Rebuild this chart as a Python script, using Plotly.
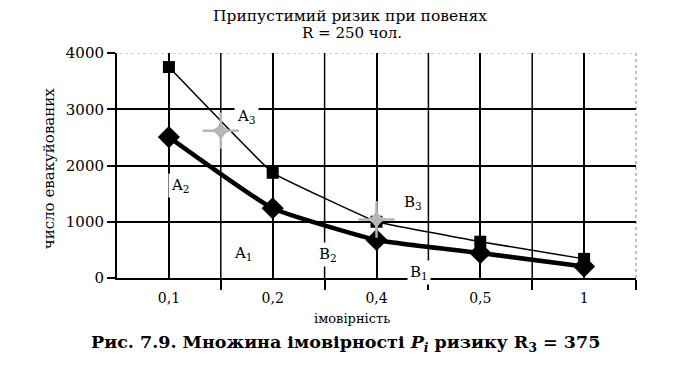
import plotly.graph_objects as go

# ---- data ----
categories = ["0,1", "0,2", "0,4", "0,5", "1"]
upper_vals = [3750, 1870, 1000, 645, 340]     # squares (A3-B3)
lower_vals = [2505, 1240, 675, 444, 205]      # diamonds (A1-B1)
star_pos = [0.5, 2.0]                          # between 0,1-0,2 and at 0,4
star_vals = [2620, 1040]
y_ticks = [0, 1000, 2000, 3000, 4000]

positions = list(range(len(categories)))
boundaries = [p + 0.5 for p in positions[:-1]]

SERIF = "DejaVu Serif"

fig = go.Figure()
fig.add_trace(go.Scatter(
    x=positions, y=upper_vals, mode="lines+markers",
    line=dict(color="black", width=1.5, shape="spline", smoothing=0.2),
    marker=dict(symbol="square", size=12, color="black"),
    showlegend=False))
fig.add_trace(go.Scatter(
    x=positions, y=lower_vals, mode="lines+markers",
    line=dict(color="black", width=4.5, shape="spline", smoothing=0.4),
    marker=dict(symbol="diamond", size=17, color="black"),
    showlegend=False))
# grey sparkle stars: thin cross + small 4-point star
fig.add_trace(go.Scatter(
    x=star_pos, y=star_vals, mode="markers",
    marker=dict(symbol="cross-thin", size=26, color="#b5b5b5",
                line=dict(color="#b5b5b5", width=2.5)),
    showlegend=False))
fig.add_trace(go.Scatter(
    x=star_pos, y=star_vals, mode="markers",
    marker=dict(symbol="star-diamond", size=15, color="#b5b5b5"),
    showlegend=False))

fig.update_xaxes(
    range=[-0.5, len(categories) - 0.5],
    tickmode="array", tickvals=positions, ticktext=categories,
    ticks="", ticklabelstandoff=6,
    showgrid=True, gridcolor="black", gridwidth=1.5,
    showline=True, linecolor="black", linewidth=2,
    zeroline=False,
    tickfont=dict(family=SERIF, size=14, color="black"),
    minor=dict(tickmode="array", tickvals=boundaries + [len(categories) - 0.5],
               ticks="outside", ticklen=10, tickwidth=1.5, tickcolor="black",
               showgrid=False),
)
fig.update_yaxes(
    range=[0, 4000],
    tickmode="array", tickvals=y_ticks,
    ticks="outside", ticklen=8, tickwidth=1.5, tickcolor="black",
    showgrid=True, gridcolor="black", gridwidth=1.5,
    showline=True, linecolor="black", linewidth=2,
    zeroline=False,
    tickfont=dict(family=SERIF, size=15, color="black"),
)

shapes = []
# boundary vertical grid lines
for b in boundaries:
    shapes.append(dict(type="line", xref="x", yref="y", x0=b, x1=b, y0=0, y1=4000,
                       line=dict(color="black", width=1.5), layer="between"))
# grey dotted top and right border (hide black top gridline first)
shapes.append(dict(type="line", xref="paper", yref="y", x0=0.004, x1=1, y0=4000, y1=4000,
                   line=dict(color="white", width=3), layer="between"))
shapes.append(dict(type="line", xref="paper", yref="y", x0=0.004, x1=1, y0=4000, y1=4000,
                   line=dict(color="#999999", width=1.2, dash="dot"), layer="between"))
shapes.append(dict(type="line", xref="paper", yref="paper", x0=1, x1=1, y0=0, y1=1,
                   line=dict(color="#999999", width=1.2, dash="dot"), layer="between"))

fig.update_layout(shapes=shapes)

def lab(text, x, y):
    fig.add_annotation(x=x, y=y, xref="x", yref="y", text=text, showarrow=False,
                       font=dict(family=SERIF, size=15, color="black"),
                       bgcolor="white", borderpad=2)

lab("A<sub>3</sub>", 0.75, 2880)
lab("A<sub>2</sub>", 0.11, 1650)
lab("A<sub>1</sub>", 0.72, 430)
lab("B<sub>2</sub>", 1.53, 410)
lab("B<sub>3</sub>", 2.35, 1350)
lab("B<sub>1</sub>", 2.41, 90)

def ptxt(text, x, y, size, bold=False, angle=0):
    fig.add_annotation(x=x, y=y, xref="paper", yref="paper", text=text, showarrow=False,
                       font=dict(family=SERIF, size=size, color="black",
                                 weight="bold" if bold else "normal"),
                       textangle=angle, xanchor="center", yanchor="middle")

ptxt("Припустимий ризик при повенях", 0.449, 1.164, 15.5)
ptxt("R = 250 чол.", 0.452, 1.088, 15)
ptxt("число евакуйованих", -0.132, 0.49, 15, angle=-90)
ptxt("імовірність", 0.452, -0.178, 13)
ptxt("Рис. 7.9. Множина імовірності <i>P</i><sub><i>i</i></sub> ризику R<sub>3</sub> = 375",
     0.44, -0.29, 17.5, bold=True)

# the page body adds an 8px offset; compensate so the plot lands where the reference has it
fig.update_layout(
    width=689, height=364,
    margin=dict(l=109, r=61, t=45, b=94),
    plot_bgcolor="white", paper_bgcolor="white",
    font=dict(family=SERIF, color="black"),
)

fig.write_html("out.html")
